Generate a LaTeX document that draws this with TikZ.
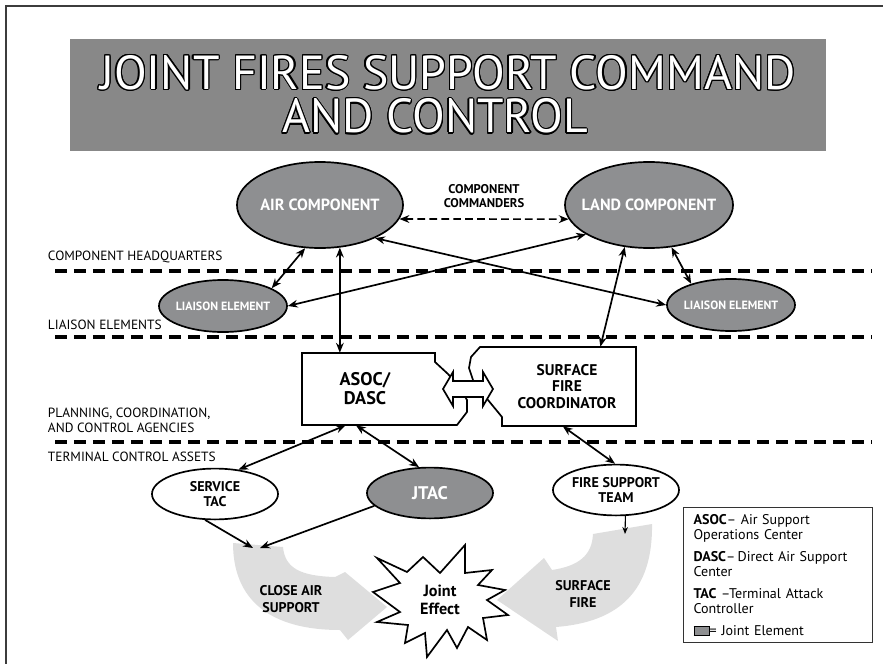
\documentclass[tikz,border=0pt]{standalone}
\usepackage{fontspec}
\setmainfont{PT Sans}
\usepackage{xcolor}
\usepackage{contour}
\usepackage{tikz}
\usetikzlibrary{arrows.meta,shapes.geometric,calc}
\definecolor{jointgray}{RGB}{142,143,145}
\definecolor{titlegray}{RGB}{136,136,136}
\definecolor{firegray}{RGB}{222,222,222}
\definecolor{framegray}{RGB}{60,60,60}
\contourlength{0.9pt}
\tikzset{
  joint/.style={ellipse, draw=black, line width=1.2pt, fill=jointgray, text=white,
                align=center, inner xsep=-12pt, inner ysep=-4pt},
  service/.style={ellipse, draw=black, line width=1.2pt, fill=white, align=center,
                  inner xsep=-12pt, inner ysep=-4pt, minimum width=3.15cm, minimum height=1.27cm,
                  font=\bfseries\fontsize{10}{11}\selectfont},
  agency/.style={rectangle, inner sep=0pt, align=center},
  link/.style={{Stealth[length=7pt,width=5.5pt]}-{Stealth[length=7pt,width=5.5pt]}, line width=1.2pt},
  feed/.style={-{Stealth[length=7pt,width=5.5pt]}, line width=1.2pt},
  drop/.style={-{Stealth[length=5pt,width=4pt]}, line width=0.8pt},
  cmd/.style={link, dash pattern=on 5.5pt off 3pt},
  zone/.style={line width=2.6pt, dash pattern=on 8.5pt off 5pt},
  zonelbl/.style={anchor=west, align=left, font=\fontsize{9.5}{10.7}\selectfont},
  lbl/.style={align=center, font=\bfseries\fontsize{10}{12.5}\selectfont},
  burst/.style={draw=black, fill=white, line width=1.2pt},
}

\begin{document}
\begin{tikzpicture}[x=0.025cm, y=-0.025cm]
  \useasboundingbox (0,0) rectangle (883,664);
  \draw[framegray, line width=1.6pt] (6,664) -- (6,6) -- (883,6);
  \node[fill=titlegray, minimum width=18.9cm, minimum height=2.8cm, align=center, text=white,
        font=\fontsize{34}{31}\selectfont] (title) at (448,95)
        {\contour{black}{JOINT FIRES SUPPORT COMMAND}\\\contour{black}{AND CONTROL}\hspace*{0.65cm}};

  \draw[zone] (55,271) -- (872,271);
  \draw[zone] (55,337) -- (872,337);
  \draw[zone] (55,442) -- (872,442);
  \node[zonelbl] (hq) at (43,257) {COMPONENT HEADQUARTERS};
  \node[zonelbl] (le) at (43,325) {LIAISON ELEMENTS};
  \node[zonelbl] (pca) at (43,420.5) {PLANNING, COORDINATION,\\AND CONTROL AGENCIES};
  \node[zonelbl] (tca) at (43,457) {TERMINAL CONTROL ASSETS};

  \fill[firegray] (283,547) .. controls (285,568) and (300,576) .. (335,577) -- (345,572) -- (387,607)
    -- (348,640) -- (340,630) .. controls (270,630) and (233,600) .. (233,543) -- cycle;
  \fill[firegray] (593,534) .. controls (592,556) and (578,566) .. (552,570) -- (544,558) -- (497,600)
    -- (558,641) -- (556,627) .. controls (620,622) and (653,590) .. (652,524) -- cycle;
  \draw[burst] (377,558) -- (407,572) -- (423,557) -- (440,573) -- (465,545) -- (465,573)
    -- (492,570) -- (478,585) -- (505,590) -- (487,600) -- (508,615) -- (483,618)
    -- (487,640) -- (468,627) -- (457,648) -- (447,630) -- (427,657) -- (425,633)
    -- (405,643) -- (408,625) -- (377,622) -- (400,612) -- (373,592) -- (400,583) -- cycle;

  \draw[line width=1.2pt, fill=white] (302,353) -- (435,353) -- (435,362) -- (448,374) -- (460,388)
    -- (467,400) -- (467,412) -- (457,425) -- (302,425) -- cycle;
  \draw[line width=1.2pt, fill=white] (480,347) -- (636,347) -- (636,426) -- (502,426) -- (502,417)
    -- (488,400) -- (476,390) -- (473,380) -- (469,368) -- (471,357) -- cycle;
  \draw[line width=1.2pt, fill=white] (443,389) -- (453,372) -- (453,381) -- (483,381) -- (483,372)
    -- (493,389) -- (483,406) -- (483,397) -- (453,397) -- (453,406) -- cycle;

  \node[joint, minimum width=4.15cm, minimum height=2.15cm,
        font=\bfseries\fontsize{11.5}{13}\selectfont] (air) at (320,205) {AIR COMPONENT};
  \node[joint, minimum width=4.2cm, minimum height=2.15cm,
        font=\bfseries\fontsize{11.5}{13}\selectfont] (land) at (649,205) {LAND COMPONENT};
  \node[align=center, font=\bfseries\fontsize{9}{9.5}\selectfont] (cmdrs) at (484,196) {COMPONENT\\COMMANDERS};
  \node[joint, minimum width=3.2cm, minimum height=1.3cm,
        font=\bfseries\fontsize{8.5}{9}\selectfont] (liaisonL) at (223,306) {LIAISON ELEMENT};
  \node[joint, minimum width=3.2cm, minimum height=1.3cm,
        font=\bfseries\fontsize{8.5}{9}\selectfont] (liaisonR) at (731,305) {LIAISON ELEMENT};
  \node[agency, minimum width=3.15cm, minimum height=1.8cm,
        font=\bfseries\fontsize{13}{13.5}\selectfont] (asoc) at (365,389) {ASOC/\\DASC};
  \node[agency, minimum width=3.45cm, minimum height=1.975cm,
        font=\bfseries\fontsize{11}{11.7}\selectfont] (sfc) at (567,386.5) {SURFACE\\FIRE\\COORDINATOR};
  \node[service] (svctac) at (215,494) {SERVICE\\TAC};
  \node[joint, minimum width=3.15cm, minimum height=1.27cm,
        font=\bfseries\fontsize{13}{14}\selectfont] (jtac) at (430,493) {JTAC};
  \node[service] (fst) at (616,490) {FIRE SUPPORT\\TEAM};
  \node[align=center, font=\bfseries\fontsize{11.5}{12.8}\selectfont] (effect) at (440,600) {Joint\\Effect};
  \node[lbl] (cas) at (291,599) {CLOSE AIR\\SUPPORT};
  \node[lbl] (sfire) at (583,594) {SURFACE\\FIRE};
  \coordinate (cas1) at (253,548);
  \coordinate (cas2) at (260,548);
  \coordinate (sfin) at (625,534);

  \node[draw=black!80, line width=0.8pt, anchor=north west, minimum width=4.725cm, minimum height=3.375cm,
        inner xsep=0.25cm, text width=4.225cm, align=left, font=\fontsize{10}{10.7}\selectfont] (key) at (683,507)
    {\textbf{ASOC}– Air Support\\Operations Center\\[4.9pt]
     \textbf{DASC}–\,Direct Air Support\\Center\\[4.9pt]
     \textbf{TAC} –Terminal Attack\\Controller\\[4.9pt]
     {\setlength{\fboxsep}{0pt}\fcolorbox{black}{jointgray}{\rule{0pt}{6.4pt}\hspace{10.7pt}}}= Joint Element};

  \draw[link] (air.251) -- (liaisonL.20);
  \draw[link] (air.295) -- (air.295 |- asoc.north);
  \draw[link] (air.329) -- (liaisonR.180);
  \draw[cmd] (air.350) -- (land.190);
  \draw[link] (land.205) -- (liaisonL.0);
  \draw[link] (land.240) -- (sfc.50);
  \draw[link] (land.298) -- (liaisonR.152);
  \draw[link] (asoc.242) -- (svctac.46);
  \draw[link] (asoc.256) -- (jtac.113);
  \draw[link] (sfc.264) -- (fst.92);
  \draw[feed] (svctac.249) -- (cas1);
  \draw[feed] (jtac.193) -- (cas2);
  \draw[drop] (fst.290) -- (sfin);
\end{tikzpicture}
\end{document}
